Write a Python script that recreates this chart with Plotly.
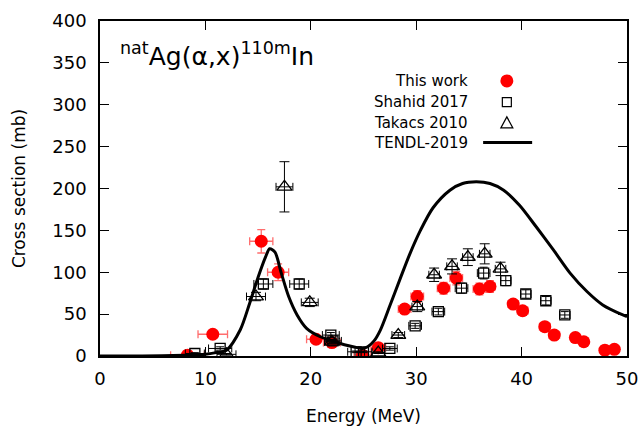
import plotly.graph_objects as go

# This work
tw_E   = [8.3, 10.7, 15.3, 16.9, 20.5, 22.0, 24.9, 26.4, 28.9, 30.1, 32.6, 33.8, 36.0, 37.0, 39.2, 40.1, 42.2, 43.1, 45.1, 45.9, 47.9, 48.8]
tw_sig = [1, 26, 137, 100, 20, 16, 1, 10, 56, 71, 81, 93, 80, 83, 62, 54, 35, 25, 22, 17, 7, 8]
tw_dE  = [1.6, 1.4, 1.1, 1.0, 0.9, 0.8, 0.8, 0.7, 0.6, 0.6, 0.6, 0.6, 0.6, 0.5, 0.5, 0.5, 0.5, 0.5, 0.4, 0.4, 0.4, 0.4]
tw_dS  = [1, 3, 14, 10, 3, 3, 1, 2, 5, 7, 7, 8, 7, 7, 5, 5, 3, 3, 2, 2, 1, 1]

# Shahid 2017
sh_E   = [9.0, 11.4, 15.5, 18.9, 21.9, 22.1, 24.3, 25.0, 27.5, 29.9, 32.1, 34.3, 36.4, 38.5, 40.4, 42.3, 44.1]
sh_sig = [3, 9, 86, 86, 25, 18, 5, 5, 9, 36, 53, 81, 99, 90, 74, 66, 49]
sh_dE  = [0.9, 1.1, 0.9, 0.9, 0.8, 0.8, 0.8, 0.8, 0.7, 0.6, 0.6, 0.6, 0.6, 0.5, 0.5, 0.5, 0.5]
sh_dS  = [1, 2, 6, 6, 3, 2, 1, 1, 2, 3, 4, 6, 7, 6, 5, 5, 4]

# Takacs 2010
tk_E   = [12.0, 14.8, 17.5, 19.9, 22.0, 26.4, 28.3, 30.1, 31.7, 33.4, 34.9, 36.5, 38.0]
tk_sig = [2, 71, 202, 64, 17, 4, 25, 59, 97, 107, 118, 122, 104]
tk_dE  = [0.9, 0.9, 0.8, 0.8, 0.7, 0.6, 0.6, 0.5, 0.5, 0.5, 0.5, 0.5, 0.5]
tk_dS  = [1, 5, 30, 5, 2, 1, 3, 6, 8, 9, 10, 12, 8]

# TENDL-2019
td_E   = [0, 4, 8, 10, 11, 12.0, 13.3, 14.2, 15.0, 15.7, 16.1, 16.6, 17.2, 17.9, 18.7, 19.6, 20.9, 22.1,
          22.8, 23.7, 24.4, 24.9, 25.4, 26.0, 26.6, 27.5, 28.5, 29.4, 30.4, 31.6, 33.2, 34.4, 35.7,
          37.0, 38.3, 39.8, 41.4, 43.0, 44.6, 46.2, 47.7, 49.6, 50]
td_sig = [0, 0, 1, 2, 4, 7, 31, 63, 94, 118, 128, 124, 99, 71, 49, 33, 23, 18,
          15, 12, 10, 9, 11, 18, 31, 60, 93, 122, 150, 177, 198, 206, 208,
          206, 198, 180, 154, 127, 99, 77, 61, 49, 47]

FONT = "DejaVu Sans"
fig = go.Figure()

fig.add_trace(go.Scatter(
    x=tw_E, y=tw_sig, mode="markers", name="This work",
    marker=dict(symbol="circle", size=13, color="#ff0000"),
    error_x=dict(type="data", array=tw_dE, color="rgba(255,60,60,0.75)", thickness=1.3, width=4),
    error_y=dict(type="data", array=tw_dS, color="rgba(255,60,60,0.75)", thickness=1.3, width=4),
))
fig.add_trace(go.Scatter(
    x=sh_E, y=sh_sig, mode="markers", name="Shahid 2017",
    marker=dict(symbol="square-open", size=10, color="black", line=dict(width=1.3)),
    error_x=dict(type="data", array=sh_dE, color="black", thickness=1, width=4),
    error_y=dict(type="data", array=sh_dS, color="black", thickness=1, width=4),
))
fig.add_trace(go.Scatter(
    x=tk_E, y=tk_sig, mode="markers", name="Takacs 2010",
    marker=dict(symbol="triangle-up-open", size=13, color="black", line=dict(width=1.3)),
    error_x=dict(type="data", array=tk_dE, color="black", thickness=1, width=4),
    error_y=dict(type="data", array=tk_dS, color="black", thickness=1, width=5),
))
fig.add_trace(go.Scatter(
    x=td_E, y=td_sig, mode="lines", name="TENDL-2019",
    line=dict(color="black", width=3, shape="spline", smoothing=0.8),
))

axis_common = dict(
    showline=True, linecolor="black", linewidth=1.5, mirror="ticks",
    ticks="inside", ticklen=9, tickwidth=1, tickcolor="black",
    showgrid=False, zeroline=False, automargin=False,
    tickfont=dict(family=FONT, size=18, color="black"),
)
fig.update_xaxes(range=[0, 50], tickvals=[0, 10, 20, 30, 40, 50], ticklabelstandoff=6,
                 title=dict(text="Energy (MeV)", font=dict(family=FONT, size=17, color="black"), standoff=26),
                 **axis_common)
fig.update_yaxes(range=[0, 400], tickvals=[0, 50, 100, 150, 200, 250, 300, 350, 400], ticklabelstandoff=8,
                 title=dict(text="Cross section (mb)", font=dict(family=FONT, size=17, color="black"), standoff=22),
                 **axis_common)

# Title annotation
annotations = [dict(
    text="<sup>nat</sup>Ag(α,x)<sup>110m</sup>In", xref="paper", yref="paper",
    x=0.035, y=0.90, xanchor="left", yanchor="middle", showarrow=False,
    font=dict(family=FONT, size=25, color="black"))]

# Gnuplot-style legend: text right-aligned, key on the right
leg_names = ["This work", "Shahid 2017", "Takacs 2010", "TENDL-2019"]
leg_y = [0.821, 0.758, 0.696, 0.637]
for nm, yy in zip(leg_names, leg_y):
    annotations.append(dict(text=nm, xref="paper", yref="paper", x=0.703, y=yy,
                            xanchor="right", yanchor="middle", showarrow=False,
                            font=dict(family=FONT, size=15, color="black")))
kx = 0.772
shapes = [
    dict(type="circle", xref="paper", yref="paper", xsizemode="pixel", ysizemode="pixel",
         xanchor=kx, yanchor=leg_y[0], x0=-6.5, x1=6.5, y0=-6.5, y1=6.5,
         fillcolor="#ff0000", line=dict(color="#ff0000", width=0)),
    dict(type="rect", xref="paper", yref="paper", xsizemode="pixel", ysizemode="pixel",
         xanchor=kx, yanchor=leg_y[1], x0=-4.5, x1=4.5, y0=-4.5, y1=4.5,
         line=dict(color="black", width=1.2)),
    dict(type="path", xref="paper", yref="paper", xsizemode="pixel", ysizemode="pixel",
         xanchor=kx, yanchor=leg_y[2], path="M -6,-5 L 6,-5 L 0,6 Z",
         line=dict(color="black", width=1.2)),
    dict(type="line", xref="paper", yref="paper", x0=0.727, x1=0.820, y0=leg_y[3], y1=leg_y[3],
         line=dict(color="black", width=3)),
]

fig.update_layout(
    width=639, height=426,
    margin=dict(l=100, r=12, t=21, b=70),
    plot_bgcolor="white", paper_bgcolor="white",
    showlegend=False,
    annotations=annotations, shapes=shapes,
    font=dict(family=FONT, color="black"),
)

fig.write_html("out.html", config={"displayModeBar": False},
               post_script="document.body.style.margin='0';document.body.style.padding='0';")
